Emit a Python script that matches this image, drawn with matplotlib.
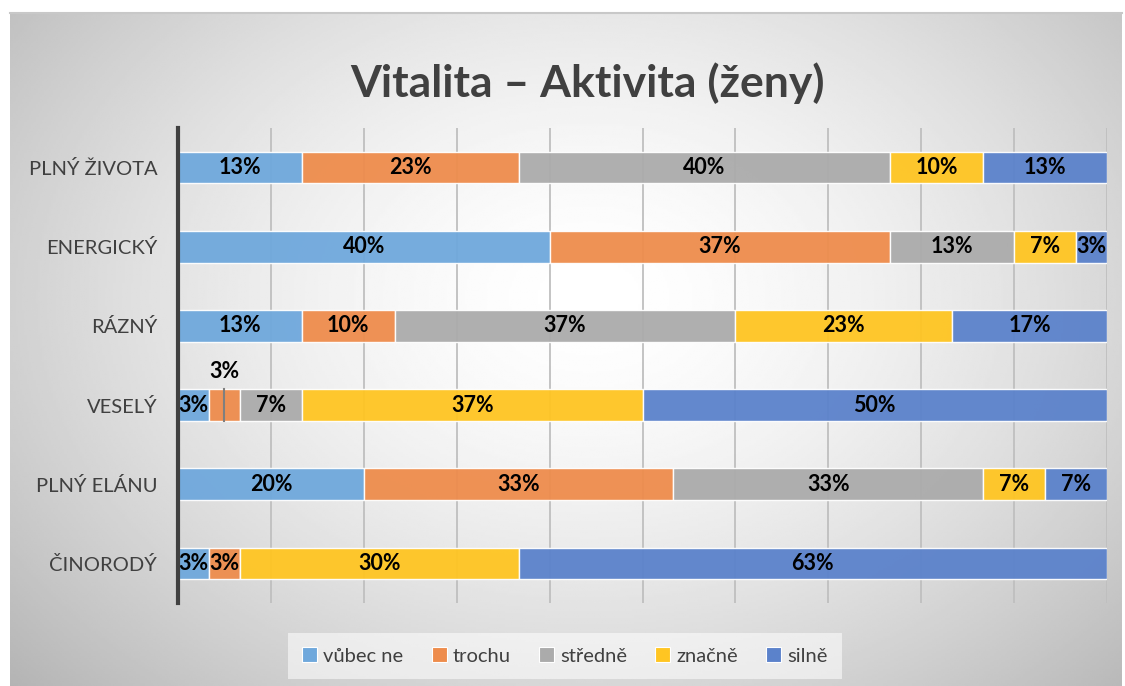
import numpy as np
import matplotlib
matplotlib.use("Agg")
import matplotlib.pyplot as plt
from matplotlib.patches import Patch

plt.rcParams['font.family'] = ['Lato', 'DejaVu Sans']

# odpovědi žen (počet respondentek z 30)
N = 30
categories = ['PLNÝ ŽIVOTA', 'ENERGICKÝ', 'RÁZNÝ', 'VESELÝ', 'PLNÝ ELÁNU', 'ČINORODÝ']
series = ['vůbec ne', 'trochu', 'středně', 'značně', 'silně']
vubec_ne = [4, 12, 4, 1, 6, 1]
trochu = [7, 11, 3, 1, 10, 1]
stredne = [12, 4, 11, 2, 10, 0]
znacne = [3, 2, 7, 11, 2, 9]
silne = [4, 1, 5, 15, 2, 19]
colors = ['#6FA8DC', '#EE8C4C', '#ABABAB', '#FFC522', '#5B82CB']

data = np.array([vubec_ne, trochu, stredne, znacne, silne], dtype=float) / N * 100

fig = plt.figure(figsize=(11.25, 6.86), dpi=100)
fig.patch.set_facecolor('white')

# pozadí s radiálním přechodem
bg = fig.add_axes([10 / 1125, 0, 1112 / 1125, 1 - 13 / 686])
h, w = 300, 500
yy, xx = np.mgrid[0:h, 0:w]
r = np.sqrt(((xx - 0.52 * w) / (0.62 * w)) ** 2 + ((yy - 0.42 * h) / (0.75 * h)) ** 2)
shade = 1 - 0.24 * np.clip(r, 0, 1.3) ** 1.6
bg.imshow(shade, cmap='gray', vmin=0, vmax=1, aspect='auto', extent=[0, 1, 0, 1])
bg.set_xticks([])
bg.set_yticks([])
for s in ['left', 'right', 'bottom']:
    bg.spines[s].set_visible(False)
bg.spines['top'].set_color('#c8c8c8')
bg.spines['top'].set_linewidth(1.5)

ax = fig.add_axes([178 / 1125, 1 - 603 / 686, (1107 - 178) / 1125, (603 - 128) / 686])
ax.set_facecolor('none')

y = np.arange(len(categories))
bar_h = 0.4
left = np.zeros(len(categories))
for i, (name, vals) in enumerate(zip(series, data)):
    ax.barh(y, vals, left=left, height=bar_h, color=colors[i], alpha=0.95,
            edgecolor='white', linewidth=1.0, zorder=3, label=name)
    for j, v in enumerate(vals):
        if v <= 0:
            continue
        cx = left[j] + v / 2
        txt = f'{v:.0f}%'
        if categories[j] == 'VESELÝ' and name == 'trochu':
            ax.text(cx, y[j] - 0.42, txt, ha='center', va='center',
                    fontsize=15.5, fontweight='bold', color='black', zorder=5)
            ax.plot([cx, cx], [y[j] - bar_h / 2, y[j] + bar_h / 2],
                    color='#7f7f7f', linewidth=1.5, zorder=4)
        else:
            ax.text(cx, y[j], txt, ha='center', va='center',
                    fontsize=15.5, fontweight='bold', color='black', zorder=5)
    left += vals

ax.set_xlim(0, 100)
ax.set_ylim(len(categories) - 0.5, -0.5)
ax.set_xticks(np.arange(0, 101, 10))
ax.tick_params(axis='x', length=0, labelbottom=False)
ax.grid(axis='x', color='#bfbfbf', linewidth=1.3, zorder=0)
ax.set_axisbelow(True)
ax.set_yticks(y)
ax.set_yticklabels(categories, fontsize=14.5, color='#404040')
ax.tick_params(axis='y', length=0, pad=15)
for s in ['top', 'right', 'bottom']:
    ax.spines[s].set_visible(False)
ax.spines['left'].set_color('#404040')
ax.spines['left'].set_linewidth(3)
ax.spines['left'].set_zorder(6)

fig.text(588 / 1125, 1 - 83 / 686, 'Vitalita – Aktivita (ženy)', ha='center', va='center',
         fontsize=32, fontweight='bold', color='#404040')

handles = [Patch(facecolor=c, edgecolor='white', linewidth=0.8) for c in colors]
leg = fig.legend(handles, series, loc='center', bbox_to_anchor=(565 / 1125, 1 - 656 / 686),
                 ncol=5, frameon=True, fontsize=14.5, handlelength=0.75, handleheight=0.75,
                 handletextpad=0.3, columnspacing=1.4, borderpad=0.7)
leg.get_frame().set_facecolor('white')
leg.get_frame().set_alpha(0.55)
leg.get_frame().set_edgecolor('none')
leg.get_frame().set_boxstyle('square', pad=0)
for t in leg.get_texts():
    t.set_color('#404040')

fig.savefig('out.png', dpi=100)
